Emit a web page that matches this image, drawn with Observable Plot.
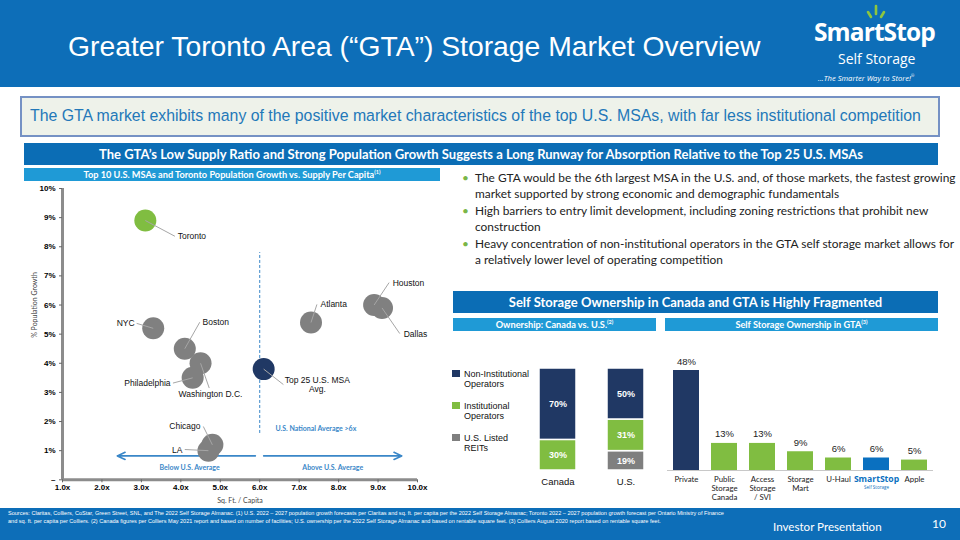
<!DOCTYPE html>
<html><head><meta charset="utf-8">
<script src="https://cdn.jsdelivr.net/npm/d3@7"></script>
<script src="https://cdn.jsdelivr.net/npm/@observablehq/plot@0.6"></script>
<style>
body{margin:0;width:960px;height:540px;overflow:hidden;background:#fff;font-family:"Liberation Sans",Arial,sans-serif;}
#slide{position:relative;width:960px;height:540px;overflow:hidden;}
.a{position:absolute;white-space:nowrap;}
.hdr{background:#0d6eb8;left:0;top:0;width:960px;height:87px;}
.title{left:68px;top:29px;font-size:28.3px;color:#fff;line-height:34px;}
.box{left:20px;top:96px;width:916px;height:37px;background:#eef2ea;border:2px solid #7591c4;}
.boxt{left:30px;top:106px;font-size:15.85px;color:#2378b9;line-height:20px;}
.sec{background:#0b6db5;color:#fff;font-family:Lato,"Open Sans",sans-serif;font-weight:bold;text-align:center;}
.sub{background:#1f9ad6;color:#fff;font-family:Lato,"Open Sans",sans-serif;font-weight:bold;text-align:center;font-size:9.2px;line-height:13px;}
.sub sup,.sec sup{font-size:5.5px;vertical-align:top;line-height:8px;}
.bul{left:462px;font-family:Lato,"Open Sans",sans-serif;font-size:11.9px;color:#222;line-height:16px;}
.bul span.d{color:#7ab648;position:absolute;left:0;}
.bul div{padding-left:13px;}
.lg{font-family:"Liberation Sans Narrow","Liberation Sans",sans-serif;font-size:9px;line-height:10px;color:#111;}
.sw{width:8px;height:7px;}
.foot{left:0;top:508px;width:960px;height:32px;background:#0d6eb8;}
.src{left:8px;top:509px;font-family:"Liberation Sans Narrow","Liberation Sans",sans-serif;font-size:5.55px;line-height:8px;color:#fff;}
</style></head><body><div id="slide">
<div class="a hdr"></div>
<div class="a title">Greater Toronto Area (“GTA”) Storage Market Overview</div>
<svg class="a" style="left:862px;top:3px" width="30" height="18"><g stroke="#8dc63f" stroke-width="2.6" stroke-linecap="round"><line x1="6" y1="9" x2="9" y2="14"/><line x1="14" y1="3" x2="14" y2="11"/><line x1="22" y1="9" x2="19" y2="14"/></g></svg>
<div class="a" style="left:814px;top:20px;font-family:'Open Sans',sans-serif;font-weight:bold;font-size:24.5px;color:#fff;letter-spacing:-0.9px;line-height:24px;">SmartStop</div>
<div class="a" style="left:838px;top:52px;font-family:'Open Sans',sans-serif;font-size:14px;color:#fff;line-height:14px;">Self Storage</div>
<div class="a" style="left:818px;top:71px;font-family:'Open Sans',sans-serif;font-style:italic;font-size:7.6px;color:#fff;line-height:10px;">...The Smarter Way to Store!<sup style="font-size:4px">®</sup></div>

<div class="a box"></div>
<div class="a boxt">The GTA market exhibits many of the positive market characteristics of the top U.S. MSAs, with far less institutional competition</div>

<div class="a sec" style="left:24px;top:143px;width:914px;height:22px;font-size:13px;line-height:22px;">The GTA’s Low Supply Ratio and Strong Population Growth Suggests a Long Runway for Absorption Relative to the Top 25 U.S. MSAs</div>
<div class="a sub" style="left:24px;top:168px;width:416px;height:13px;">Top 10 U.S. MSAs and Toronto Population Growth vs. Supply Per Capita<sup>(1)</sup></div>

<div class="a bul" style="top:170px;">
<div><span class="d">•</span>The GTA would be the 6th largest MSA in the U.S. and, of those markets, the fastest growing<br>market supported by strong economic and demographic fundamentals</div>
<div style="margin-top:1px"><span class="d">•</span>High barriers to entry limit development, including zoning restrictions that prohibit new<br>construction</div>
<div style="margin-top:1px"><span class="d">•</span>Heavy concentration of non-institutional operators in the GTA self storage market allows for<br>a relatively lower level of operating competition</div>
</div>

<div class="a sec" style="left:453px;top:291px;width:485px;height:22px;font-size:13px;line-height:22px;">Self Storage Ownership in Canada and GTA is Highly Fragmented</div>
<div class="a sub" style="left:453px;top:318px;width:203px;height:13px;">Ownership: Canada vs. U.S.<sup>(2)</sup></div>
<div class="a sub" style="left:665px;top:318px;width:273px;height:13px;">Self Storage Ownership in GTA<sup>(3)</sup></div>

<div class="a" id="scatter" style="left:0;top:180px;"></div>
<div class="a" style="left:34px;top:305px;transform:translate(-50%,-50%) rotate(-90deg);font-family:Lato,sans-serif;font-size:7px;color:#444;">% Population Growth</div>
<div class="a" style="left:240px;top:500px;transform:translate(-50%,-50%);font-family:Lato,sans-serif;font-size:7px;color:#444;">Sq. Ft. / Capita</div>

<div class="a" id="stack" style="left:450px;top:340px;"></div>
<div class="a" id="legend" style="left:452px;top:369px;"></div>
<div class="a" id="gta" style="left:660px;top:340px;"></div>

<div class="a foot"></div>
<div class="a src">Sources: Claritas, Colliers, CoStar, Green Street, SNL, and The 2022 Self Storage Almanac. (1) U.S. 2022 – 2027 population growth forecasts per Claritas and sq. ft. per capita per the 2022 Self Storage Almanac; Toronto 2022 – 2027 population growth forecast per Ontario Ministry of Finance<br>and sq. ft. per capita per Colliers. (2) Canada figures per Colliers May 2021 report and based on number of facilities; U.S. ownership per the 2022 Self Storage Almanac and based on rentable square feet. (3) Colliers August 2020 report based on rentable square feet.</div>
<div class="a" style="left:773px;top:519px;font-family:Lato,sans-serif;font-size:11.6px;color:#fff;line-height:16px;">Investor Presentation</div>
<div class="a" style="left:932px;top:516px;font-family:Lato,sans-serif;font-size:12px;color:#fff;line-height:16px;">10</div>
</div>
<script>
// ---------- Data: bubble chart ----------
const markets = ["Toronto","NYC","Boston","Washington D.C.","Philadelphia","Chicago","LA","Top 25 U.S. MSA\nAvg.","Atlanta","Houston","Dallas"];
const sqFtPerCapita = [3.1, 3.3, 4.1, 4.5, 4.3, 4.8, 4.7, 6.1, 7.3, 8.9, 9.1];
const popGrowthPct = [8.9, 5.2, 4.5, 4.0, 3.5, 1.2, 1.0, 3.8, 5.4, 6.0, 5.9];
const marketGroup = ["Toronto","US","US","US","US","US","US","Average","US","US","US"];
const xTicks = [1,2,3,4,5,6,7,8,9,10];
const yTicks = [0,1,2,3,4,5,6,7,8,9,10];
const usNationalAverage = 6;
// annotation layout (label anchors & leader ends, data units)
const labelX = [3.92, 2.83, 4.55, 4.75, 3.74, 4.50, 4.04, 7.46, 7.54, 9.37, 9.65];
const labelY = [8.36, 5.37, 5.41, 2.96, 3.32, 1.83, 1.04, 3.28, 6.02, 6.77, 5.02];
const labelAnchor = ["start","end","start","middle","end","end","end","middle","start","start","start"];
const leaderX = [3.85, 2.88, 4.48, 4.72, 3.80, 4.57, 4.10, 6.60, 7.45, 9.28, 9.55];
const leaderY = [8.36, 5.37, 5.41, 3.15, 3.32, 1.83, 1.04, 3.27, 6.02, 6.77, 5.02];

// ---------- Data: ownership Canada vs U.S. ----------
const countries = ["Canada","U.S."];
const ownerTypes = ["U.S. Listed REITs","Institutional Operators","Non-Institutional Operators"];
const canadaShares = [0, 30, 70];
const usShares = [19, 31, 50];

// ---------- Data: GTA ownership ----------
const gtaOwners = ["Private","Public Storage Canada","Access Storage / SVI","Storage Mart","U-Haul","SmartStop","Apple"];
const gtaTickLabels = ["Private","Public\nStorage\nCanada","Access\nStorage\n/ SVI","Storage\nMart","U-Haul","SmartStop","Apple"];
const gtaShares = [48, 13, 13, 9, 6, 6, 5];

const NAVY = "#203864", GREEN = "#80bd41", GRAY = "#7f7f7f", BLUE = "#0a70c0", ANN = "#3a87c8";
const NARROW = "'Liberation Sans Narrow','Liberation Sans',sans-serif";
const CAL = "Lato,'Open Sans',sans-serif";

// ---------- Bubble chart ----------
const pts = markets.map((m,i)=>({m, x:sqFtPerCapita[i], y:popGrowthPct[i], g:marketGroup[i],
  lx:labelX[i], ly:labelY[i], la:labelAnchor[i], ex:leaderX[i], ey:leaderY[i]}));
const colorOf = {Toronto: GREEN, US: "#808080", Average: NAVY};
const scatter = Plot.plot({
  width: 450, height: 328,
  marginLeft: 62, marginRight: 33, marginTop: 8, marginBottom: 28.7,
  style: {background: "transparent", fontFamily: NARROW},
  x: {domain: [1, 10]},
  y: {domain: [0, 10]},
  marks: [
    Plot.ruleX([usNationalAverage], {y1: 1.59, y2: 7.8, stroke: ANN, strokeDasharray: "3,2", strokeWidth: 1}),
    Plot.arrow([{x1: 5.89, x2: 2.39}, {x1: 6.10, x2: 9.60}], {x1: "x1", x2: "x2", y1: 0.82, y2: 0.82, stroke: ANN, strokeWidth: 1.6, headLength: 8, headAngle: 50}),
    Plot.text(["Below U.S. Average"], {x: 4.22, y: 0.42, text: d=>d, fill: ANN, fontWeight: "bold", fontSize: 7, fontFamily: CAL}),
    Plot.text(["Above U.S. Average"], {x: 7.85, y: 0.42, text: d=>d, fill: ANN, fontWeight: "bold", fontSize: 7, fontFamily: CAL}),
    Plot.text(["U.S. National Average >6x"], {x: 6.40, y: 1.76, text: d=>d, textAnchor: "start", fill: ANN, fontWeight: "bold", fontSize: 7, fontFamily: CAL}),
    Plot.dot(pts, {x: "x", y: "y", r: 11, fill: d=>colorOf[d.g], stroke: "none"}),
    Plot.link(pts, {x1: "x", y1: "y", x2: "ex", y2: "ey", stroke: "#a6a6a6", strokeWidth: 1}),
    ...["start","middle","end"].map(a => Plot.text(pts.filter(d=>d.la===a), {x: "lx", y: "ly", text: "m", textAnchor: a, fontSize: 8.5, fill: "#111", lineHeight: 1.1})),
    Plot.ruleX([1], {stroke: "#8c8c8c", strokeWidth: 3}),
    Plot.ruleY([0], {stroke: "#8c8c8c", strokeWidth: 3}),
    Plot.axisY({ticks: yTicks, tickFormat: d => d === 0 ? "–" : d + "%", tickSize: 3, tickPadding: 4, fontSize: 8, fontWeight: "bold", stroke: "#666", label: null}),
    Plot.axisX({ticks: xTicks, tickFormat: d => d.toFixed(1) + "x", tickSize: 3, tickPadding: 2, fontSize: 8, fontWeight: "bold", stroke: "#666", label: null})
  ]
});
document.getElementById("scatter").appendChild(scatter);

// ---------- Stacked ownership chart ----------
const ownerColor = {"U.S. Listed REITs": GRAY, "Institutional Operators": GREEN, "Non-Institutional Operators": NAVY};
const stackRows = [];
countries.forEach((c, ci) => ownerTypes.forEach((t, ti) => {
  const v = (ci === 0 ? canadaShares : usShares)[ti];
  if (v > 0) stackRows.push({c, t, v});
}));
const stack = Plot.plot({
  width: 220, height: 160,
  marginLeft: 73, marginRight: 11, marginTop: 28, marginBottom: 30,
  style: {background: "transparent"},
  x: {domain: countries, paddingInner: 0.456, paddingOuter: 0.228, axis: null},
  y: {domain: [0, 100], axis: null},
  marks: [
    Plot.barY(stackRows, {x: "c", y: "v", z: "t", fill: d => ownerColor[d.t], stroke: "#fff", strokeWidth: 1.5}),
    Plot.text(stackRows, Plot.stackY({x: "c", y: "v", z: "t", text: d => d.v + "%", fill: "#fff", fontSize: 9, fontWeight: "bold", fontFamily: NARROW})),
    Plot.ruleY([0], {x1: countries[0], x2: countries[1], stroke: "#d0d0d0", insetLeft: -34, insetRight: -34}),
    Plot.text(countries, {x: d => d, y: 0, text: d => d, dy: 11, fontSize: 9.5, fill: "#111", fontFamily: NARROW})
  ]
});
document.getElementById("stack").appendChild(stack);

// legend
const lg = document.getElementById("legend");
[["Non-Institutional Operators", NAVY, "Non-Institutional<br>Operators", 0],
 ["Institutional Operators", GREEN, "Institutional<br>Operators", 32],
 ["U.S. Listed REITs", GRAY, "U.S. Listed<br>REITs", 64]].forEach(([k, col, html, top]) => {
  const sw = document.createElement("div"); sw.className = "a sw"; sw.style.cssText = `left:0;top:${top+1}px;background:${col}`; lg.appendChild(sw);
  const t = document.createElement("div"); t.className = "a lg"; t.style.cssText = `left:12px;top:${top}px`; t.innerHTML = html; lg.appendChild(t);
});

// ---------- GTA ownership chart ----------
const gtaRows = gtaOwners.map((o, i) => ({o, v: gtaShares[i], lab: gtaTickLabels[i]}));
const gtaColor = o => o === "Private" ? NAVY : o === "SmartStop" ? BLUE : GREEN;
const gta = Plot.plot({
  width: 300, height: 170,
  marginLeft: 7, marginRight: 27, marginTop: 30, marginBottom: 40,
  style: {background: "transparent"},
  x: {domain: gtaOwners, paddingInner: 0.316, paddingOuter: 0.158, axis: null},
  y: {domain: [0, 48], axis: null},
  marks: [
    Plot.barY(gtaRows, {x: "o", y: "v", fill: d => gtaColor(d.o)}),
    Plot.ruleY([0], {stroke: "#c8c8c8"}),
    Plot.text(gtaRows, {x: "o", y: "v", text: d => d.v + "%", dy: -9, fontSize: 9.5, fill: "#222", fontFamily: NARROW}),
    Plot.text(gtaRows.filter(d => d.o !== "SmartStop"), {x: "o", y: 0, text: "lab", lineAnchor: "top", dy: 5, fontSize: 7.8, lineHeight: 1.18, fill: "#222", fontFamily: CAL}),
    Plot.text(gtaRows.filter(d => d.o === "SmartStop"), {x: "o", y: 0, text: () => "SmartStop", lineAnchor: "top", dy: 5, fontSize: 8.6, fontWeight: "bold", fill: BLUE, fontFamily: "'Open Sans',sans-serif", letterSpacing: "-0.3px"}),
    Plot.text(gtaRows.filter(d => d.o === "SmartStop"), {x: "o", y: 0, text: () => "Self Storage", lineAnchor: "top", dy: 15, fontSize: 4.5, fill: BLUE, fontFamily: "'Open Sans',sans-serif"})
  ]
});
document.getElementById("gta").appendChild(gta);
</script>
</body></html>
